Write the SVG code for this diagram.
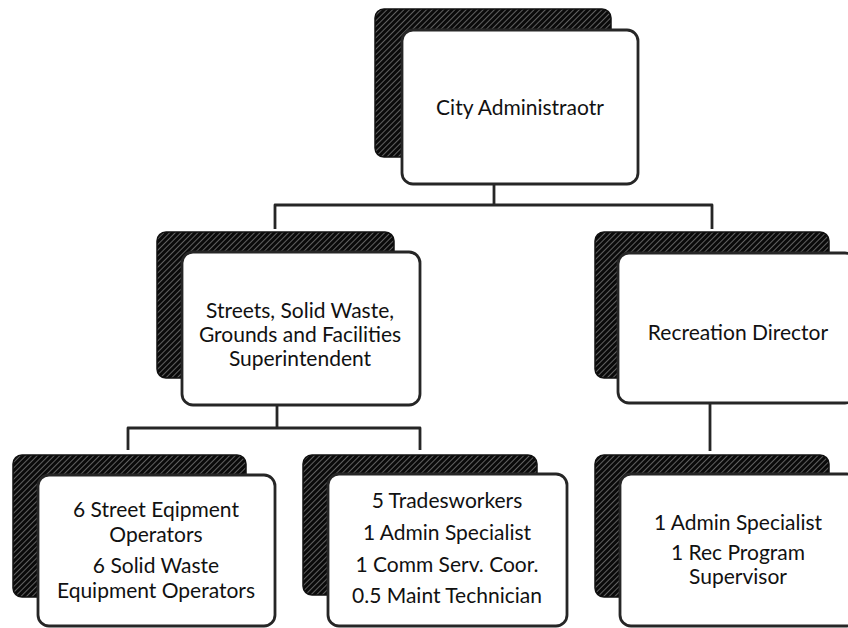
<svg xmlns="http://www.w3.org/2000/svg" width="848" height="628" viewBox="0 0 848 628">
<defs>
<pattern id="hatch" width="4" height="4" patternUnits="userSpaceOnUse" patternTransform="rotate(45)">
<rect width="4" height="4" fill="#0a0a0a"/>
<rect x="0" y="0" width="1" height="4" fill="#ffffff" opacity="0.35"/>
</pattern>
<style>
.shadow{fill:url(#hatch);stroke:#111;stroke-width:1.5}
.box{fill:#ffffff;stroke:#262626;stroke-width:2.8}
.conn{fill:none;stroke:#262626;stroke-width:2.8;stroke-linejoin:round}
text{font-family:Lato,"Liberation Sans",sans-serif;font-size:21px;fill:#111;text-anchor:middle}
</style>
</defs>
<rect width="848" height="628" fill="#ffffff"/>
<g id="connectors">
<path class="conn" d="M494 184 V205"/>
<path class="conn" d="M275 229 V205 H712 V229"/>
<path class="conn" d="M277 405 V428"/>
<path class="conn" d="M128 450 V428 H420 V450"/>
<path class="conn" d="M710 403 V451"/>
</g>
<g id="city-administrator">
<rect class="shadow" x="375" y="9" width="236" height="148" rx="9"/>
<rect class="box" x="402" y="30" width="236" height="154" rx="11"/>
<text x="520" y="115">City Administraotr</text>
</g>
<g id="streets-superintendent">
<rect class="shadow" x="157" y="232" width="237" height="146" rx="9"/>
<rect class="box" x="182" y="252" width="238" height="153" rx="11"/>
<text x="300" y="318">Streets, Solid Waste,</text>
<text x="300" y="342">Grounds and Facilities</text>
<text x="300" y="366">Superintendent</text>
</g>
<g id="recreation-director">
<rect class="shadow" x="595" y="232" width="234" height="146" rx="9"/>
<rect class="box" x="618" y="253" width="238" height="150" rx="11"/>
<text x="738" y="340">Recreation Director</text>
</g>
<g id="equipment-operators">
<rect class="shadow" x="13" y="455" width="233" height="142" rx="9"/>
<rect class="box" x="38" y="475" width="237" height="151" rx="11"/>
<text x="156" y="517">6 Street Eqipment</text>
<text x="156" y="542">Operators</text>
<text x="156" y="573">6 Solid Waste</text>
<text x="156" y="598">Equipment Operators</text>
</g>
<g id="tradesworkers">
<rect class="shadow" x="303" y="455" width="234" height="140" rx="9"/>
<rect class="box" x="328" y="474" width="239" height="152" rx="11"/>
<text x="447" y="508">5 Tradesworkers</text>
<text x="447" y="540">1 Admin Specialist</text>
<text x="447" y="572">1 Comm Serv. Coor.</text>
<text x="447" y="603">0.5 Maint Technician</text>
</g>
<g id="recreation-staff">
<rect class="shadow" x="595" y="455" width="234" height="142" rx="9"/>
<rect class="box" x="620" y="474" width="238" height="152" rx="11"/>
<text x="738" y="530">1 Admin Specialist</text>
<text x="738" y="560">1 Rec Program</text>
<text x="738" y="584">Supervisor</text>
</g>
</svg>
